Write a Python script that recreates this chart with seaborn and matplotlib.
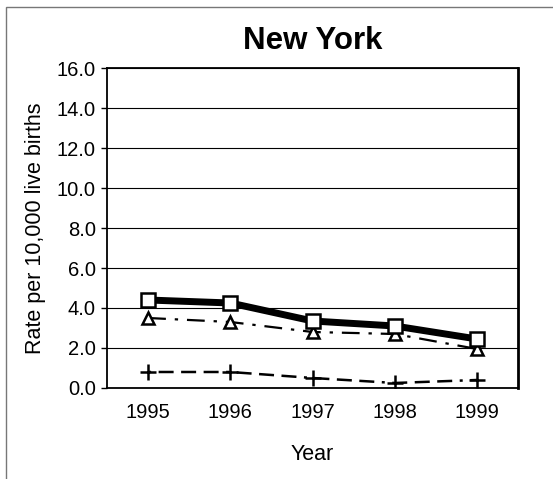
import pandas as pd
import matplotlib.pyplot as plt
import seaborn as sns
from matplotlib.patches import Rectangle

# values
years = [1995, 1996, 1997, 1998, 1999]
rate_square = [4.4, 4.25, 3.35, 3.1, 2.45]
rate_triangle = [3.5, 3.3, 2.8, 2.7, 1.95]
rate_plus = [0.8, 0.8, 0.5, 0.25, 0.4]
y_ticks = [0, 2, 4, 6, 8, 10, 12, 14, 16]

sns.set_style('white', {'text.color': 'black', 'axes.labelcolor': 'black',
                        'xtick.color': 'black', 'ytick.color': 'black'})
plt.rcParams['font.family'] = ['Liberation Sans', 'DejaVu Sans']

fig = plt.figure(figsize=(5.53, 4.79), dpi=100)
ax = fig.add_axes([0.1935, 0.19, 0.7435, 0.668])

df_sq = pd.DataFrame({'year': years, 'rate': rate_square})
df_tr = pd.DataFrame({'year': years, 'rate': rate_triangle})
df_pl = pd.DataFrame({'year': years, 'rate': rate_plus})

sns.lineplot(x='year', y='rate', data=df_pl, ax=ax, color='black', lw=1.8,
             marker='+', markersize=12, mec='black', mew=1.8, zorder=3)
ax.lines[-1].set_dashes([1.2, 3, 6, 3, 6, 3, 6, 3])
sns.lineplot(x='year', y='rate', data=df_tr, ax=ax, color='black', lw=1.6,
             marker='^', markersize=9, mfc='white', mec='black', mew=1.8, zorder=4)
ax.lines[-1].set_dashes([8, 4, 1.5, 4])
sns.lineplot(x='year', y='rate', data=df_sq, ax=ax, color='black', lw=5,
             marker='s', markersize=10, mfc='white', mec='black', mew=1.8, zorder=5)

ax.set_xlim(1994.5, 1999.5)
ax.set_ylim(0, 16)
ax.set_yticks(y_ticks)
ax.set_yticklabels(['%.1f' % v for v in y_ticks], fontsize=14.5, color='black')
ax.set_xticks(years)
ax.set_xticklabels([str(y) for y in years], fontsize=14.5, color='black')
ax.set_xticks([1994.5, 1995.5, 1996.5, 1997.5, 1998.5, 1999.5], minor=True)
ax.tick_params(axis='x', which='major', length=0, pad=11)
ax.tick_params(axis='x', which='minor', direction='out', length=5, width=1, color='black')
ax.tick_params(axis='y', direction='out', length=4, width=1, color='black', left=True, pad=4)
ax.yaxis.grid(True, color='black', lw=0.8)
ax.set_axisbelow(True)
for s in ax.spines.values():
    s.set_visible(True)
    s.set_color('black')
    s.set_linewidth(1.3)
ax.spines['right'].set_linewidth(2)

ax.set_xlabel('Year', fontsize=15.5, labelpad=16, color='black')
ax.set_ylabel('Rate per 10,000 live births', fontsize=15.5, labelpad=8, color='black')
ax.set_title('New York', fontsize=22.5, fontweight='bold', pad=14, color='black')

# outer chart frame
fig.patches.append(Rectangle((0.011, -0.05), 1.2, 1.035, transform=fig.transFigure,
                             fill=False, edgecolor='#777777', lw=1))

fig.savefig('out.png', dpi=100)
